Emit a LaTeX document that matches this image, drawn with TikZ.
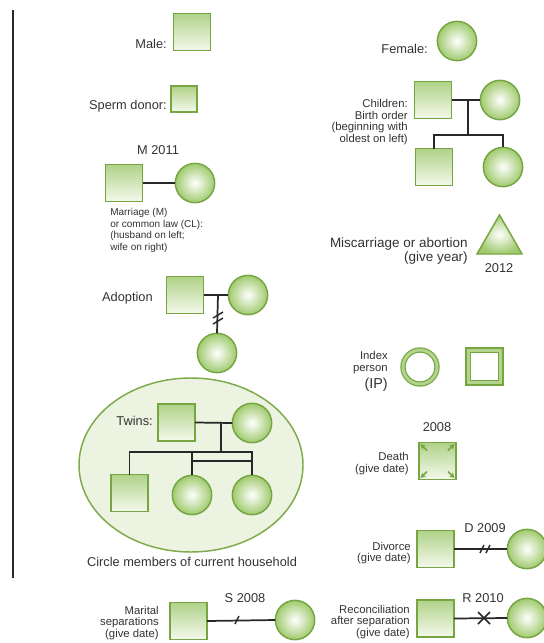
\documentclass[tikz,border=0pt]{standalone}
\usepackage{fontspec}
\setmainfont{Liberation Sans}
\usetikzlibrary{shapes.geometric,arrows.meta}
\definecolor{gborder}{RGB}{118,166,66}
\definecolor{gtop}{RGB}{176,210,136}
\definecolor{gbot}{RGB}{244,249,236}
\definecolor{gout}{RGB}{160,202,110}
\definecolor{gdbl}{RGB}{178,212,140}
\definecolor{efill}{RGB}{236,243,224}
\definecolor{eborder}{RGB}{125,170,75}
\definecolor{txt}{RGB}{50,50,50}
\definecolor{lnc}{RGB}{40,40,40}
\begin{document}
\begin{tikzpicture}[x=0.75pt,y=-0.75pt,
  sq/.style={draw=gborder,line width=1.1pt,top color=gtop,bottom color=gbot,minimum size=27.75pt,inner sep=0pt,outer sep=0pt},
  ssq/.style={sq,minimum size=19.5pt},
  fc/.style={circle,draw=gborder,line width=1.1pt,inner color=white,outer color=gout,minimum size=29.5pt,inner sep=0pt,outer sep=0pt},
  big/.style={font=\fontsize{9.6}{11}\selectfont,text=txt,inner sep=0pt},
  bigger/.style={font=\fontsize{10.1}{10.6}\selectfont,text=txt,inner sep=0pt,align=right},
  small/.style={font=\fontsize{8.5}{8.7}\selectfont,text=txt,inner sep=0pt},
  smaller/.style={font=\fontsize{7.5}{8.7}\selectfont,text=txt,inner sep=0pt},
  ln/.style={draw=lnc,line width=1.3pt},
  dbl/.style={draw=gborder,line width=0.9pt,double=gdbl,double distance=2.2pt,fill=white,inner sep=0pt,outer sep=0pt},
  corner/.style={gborder,line width=1.1pt,-{Stealth[length=4pt,width=4.2pt]}}]
\useasboundingbox (0,0) rectangle (543,643);

% left rule
\coordinate (rt) at (13,10);
\coordinate (rb) at (13,578);
\draw[lnc,line width=0.9pt] (rt) -- (rb);

% Male / sperm donor
\node[sq] (male) at (192,32) {};
\node[big,anchor=east] (malel) at (167,44) {Male:};
\node[ssq] (donor) at (184,99) {};
\node[big,anchor=east] (donorl) at (167,106) {Sperm donor:};

% Female
\node[fc] (female) at (457,41) {};
\node[big,anchor=east] (femalel) at (428,49) {Female:};

% Children
\node[sq] (cf) at (433,100) {};
\node[fc] (cm) at (500,100) {};
\node[sq] (cs) at (434,167) {};
\node[fc] (cd) at (503,167) {};
\coordinate (cj) at (468,100);
\coordinate (cbar) at (468,135);
\draw[ln] (cf.east) -- (cm.west);
\draw[ln] (cj) -- (cbar);
\draw[ln] (cs.north) |- (cbar) -| (cd.north);
\node[small,anchor=north east,align=right] (childl) at (408,99) {Children:\\Birth order\\(beginning with\\oldest on left)};

% Marriage
\node[big] (m2011) at (158,150) {M 2011};
\node[sq] (mh) at (124,183) {};
\node[fc] (mw) at (195,183) {};
\draw[ln] (mh.east) -- (mw.west);
\node[smaller,anchor=north west,align=left] (marrl) at (110,208) {Marriage (M)\\or common law (CL):\\(husband on left;\\wife on right)};

% Miscarriage
\node[regular polygon,regular polygon sides=3,minimum size=39pt,inner sep=0pt,draw=gborder,line width=1.1pt,inner color=white,outer color=gout] (tri) at (499.5,241) {};
\node[bigger,anchor=east] (miscl) at (468,251) {Miscarriage or abortion\\(give year)};
\node[big] (y2012) at (499,268) {2012};

% Adoption
\node[big,anchor=east] (adl) at (153,298) {Adoption};
\node[sq] (ah) at (185,295) {};
\node[fc] (aw) at (248,295) {};
\node[fc] (ac) at (217,353) {};
\coordinate (aj) at (218,295);
\draw[ln] (ah.east) -- (aw.west);
\draw[ln] (aj) -- (ac.north);
\coordinate (as1) at (218,315);
\coordinate (as2) at (218,321);
\draw[lnc,line width=1.1pt] ([shift={(-5,3)}]as1) -- ([shift={(5,-3)}]as1);
\draw[lnc,line width=1.1pt] ([shift={(-5,3)}]as2) -- ([shift={(5,-3)}]as2);

% Household ellipse and twins
\node[ellipse,draw=eborder,line width=1.1pt,fill=efill,minimum width=168pt,minimum height=130.5pt,inner sep=0pt] (house) at (191,465) {};
\node[big,anchor=east] (twl) at (153,421) {Twins:};
\node[sq] (tf) at (176.5,422.5) {};
\node[fc] (tm) at (252,423) {};
\node[sq] (ts) at (129.5,493) {};
\node[fc] (tt1) at (192,495) {};
\node[fc] (tt2) at (252,495) {};
\coordinate (tj) at (221,423);
\coordinate (tbar) at (221,452);
\coordinate (tw1) at (192,461);
\coordinate (tw2) at (252,461);
\draw[ln] (tf.east) -- (tm.west);
\draw[ln] (tj) -- (tbar);
\draw[ln] (ts.north) |- (tbar) -| (tt2.north);
\draw[ln] (tt1.north) |- (tbar);
\draw[ln] (tw1) -- (tw2);
\node[big] (housel) at (192,562) {Circle members of current household};

% Index person
\node[small,anchor=north east,align=right] (ipl) at (388,351) {Index\\person};
\node[font=\fontsize{10.8}{12}\selectfont,text=txt,inner sep=0pt,anchor=east] (ipl2) at (388,385) {(IP)};
\node[dbl,circle,minimum size=25.5pt] (ipc) at (420,367) {};
\node[dbl,minimum size=24.6pt] (ips) at (484.5,366.5) {};

% Death
\node[big] (d2008) at (437,427) {2008};
\node[sq] (death) at (437.5,461) {};
\draw[corner] ([shift={(8,8)}]death.north west) -- ([shift={(1.5,1.5)}]death.north west);
\draw[corner] ([shift={(-8,8)}]death.north east) -- ([shift={(-1.5,1.5)}]death.north east);
\draw[corner] ([shift={(8,-8)}]death.south west) -- ([shift={(1.5,-1.5)}]death.south west);
\draw[corner] ([shift={(-8,-8)}]death.south east) -- ([shift={(-1.5,-1.5)}]death.south east);
\node[small,anchor=east,align=right] (deathl) at (409,463.5) {Death\\(give date)};

% Divorce
\node[big] (d2009) at (485,528) {D 2009};
\node[sq] (dh) at (435.5,549) {};
\node[fc] (dw) at (527,549) {};
\draw[ln] (dh.east) -- (dw.west);
\coordinate (dv) at (485,549);
\draw[lnc,line width=1.1pt] ([shift={(-5,4)}]dv) -- ([shift={(-1,-4)}]dv);
\draw[lnc,line width=1.1pt] ([shift={(1,4)}]dv) -- ([shift={(5,-4)}]dv);
\node[small,anchor=east,align=right] (divl) at (411,553) {Divorce\\(give date)};

% Reconciliation
\node[big] (r2010) at (483,598) {R 2010};
\node[sq] (rh) at (435.5,618.5) {};
\node[fc] (rw) at (527,618) {};
\draw[ln] (rh.east) -- (rw.west);
\coordinate (rx) at (484,618);
\draw[lnc,line width=1.1pt] ([shift={(-6,-6)}]rx) -- ([shift={(6,6)}]rx);
\draw[lnc,line width=1.1pt] ([shift={(-6,6)}]rx) -- ([shift={(6,-6)}]rx);
\node[small,anchor=east,align=right] (recl) at (410,622) {Reconciliation\\after separation\\(give date)};

% Separation
\node[big] (s2008) at (245,598) {S 2008};
\node[sq] (sh) at (188.5,621) {};
\node[fc] (sw) at (295,620) {};
\draw[ln] (sh.east) -- (sw.west);
\coordinate (sv) at (237,620);
\draw[lnc,line width=1.1pt] ([shift={(-2,4)}]sv) -- ([shift={(2,-4)}]sv);
\node[small,anchor=east,align=right] (sepl) at (159,623) {Marital\\separations\\(give date)};
\end{tikzpicture}
\end{document}
